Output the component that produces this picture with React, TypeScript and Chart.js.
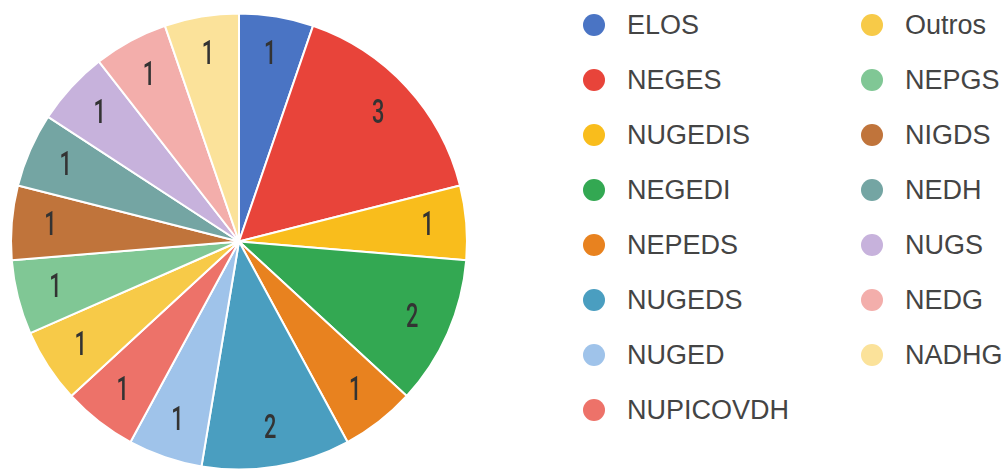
import React, { useEffect, useRef } from "react";
import { Chart, registerables } from "chart.js";

Chart.register(...registerables);

const categories = [
  "ELOS", "NEGES", "NUGEDIS", "NEGEDI", "NEPEDS", "NUGEDS", "NUGED", "NUPICOVDH",
  "Outros", "NEPGS", "NIGDS", "NEDH", "NUGS", "NEDG", "NADHG",
];
const values = [1, 3, 1, 2, 1, 2, 1, 1, 1, 1, 1, 1, 1, 1, 1];
const colors = [
  "#4a74c4", "#e8443a", "#f9bd1c", "#33a852", "#e8821f", "#4a9ec0", "#9fc3ea", "#ed7269",
  "#f7ca48", "#80c795", "#c0743b", "#74a5a3", "#c7b2dc", "#f3aeab", "#fbe29a",
];
const legendRows = 8;

const valueLabels = {
  id: "valueLabels",
  afterDatasetsDraw(chart: any) {
    const ctx = chart.ctx;
    const meta = chart.getDatasetMeta(0);
    ctx.save();
    ctx.fillStyle = "#333333";
    ctx.font = "500 34px Roboto";
    ctx.textAlign = "center";
    ctx.textBaseline = "middle";
    meta.data.forEach((arc: any, i: number) => {
      const p = arc.getProps(["x", "y", "startAngle", "endAngle", "outerRadius"], true);
      const mid = (p.startAngle + p.endAngle) / 2;
      const r = p.outerRadius * 0.83;
      const x = p.x + Math.cos(mid) * r;
      const y = p.y + Math.sin(mid) * r;
      ctx.save();
      ctx.translate(x, y);
      ctx.scale(0.64, 1);
      ctx.fillText(String(values[i]), 0, 1);
      ctx.restore();
    });
    ctx.restore();
  },
};

export default function App() {
  const ref = useRef<HTMLCanvasElement | null>(null);

  useEffect(() => {
    document.body.style.margin = "0";
    const chart = new Chart(ref.current as HTMLCanvasElement, {
      type: "pie",
      data: {
        labels: categories,
        datasets: [
          {
            data: values,
            backgroundColor: colors,
            borderColor: "#ffffff",
            borderWidth: 2,
          },
        ],
      },
      options: {
        animation: false,
        responsive: false,
        radius: 228,
        layout: { padding: { top: 13, bottom: 0, left: 0, right: 0 } },
        plugins: {
          legend: { display: false },
          tooltip: { enabled: false },
        },
      },
      plugins: [valueLabels],
    });
    return () => chart.destroy();
  }, []);

  return (
    <div style={{ position: "relative", width: 1006, height: 470, background: "#fff", overflow: "hidden" }}>
      <canvas ref={ref} width={478} height={470} style={{ position: "absolute", left: 0, top: 0, width: 478, height: 470 }} />
      {categories.map((c, i) => {
        const col = Math.floor(i / legendRows);
        const row = i % legendRows;
        const cx = col === 0 ? 594 : 872;
        const cy = 25 + row * 55;
        return (
          <div key={c} style={{ position: "absolute", left: cx - 11, top: cy - 14, height: 28, display: "flex", alignItems: "center" }}>
            <span style={{ display: "inline-block", width: 22, height: 22, borderRadius: "50%", background: colors[i] }} />
            <span style={{ marginLeft: 22, fontFamily: "'Liberation Sans', Arial, sans-serif", fontSize: 27, color: "#444", whiteSpace: "nowrap", lineHeight: "28px" }}>{c}</span>
          </div>
        );
      })}
    </div>
  );
}
